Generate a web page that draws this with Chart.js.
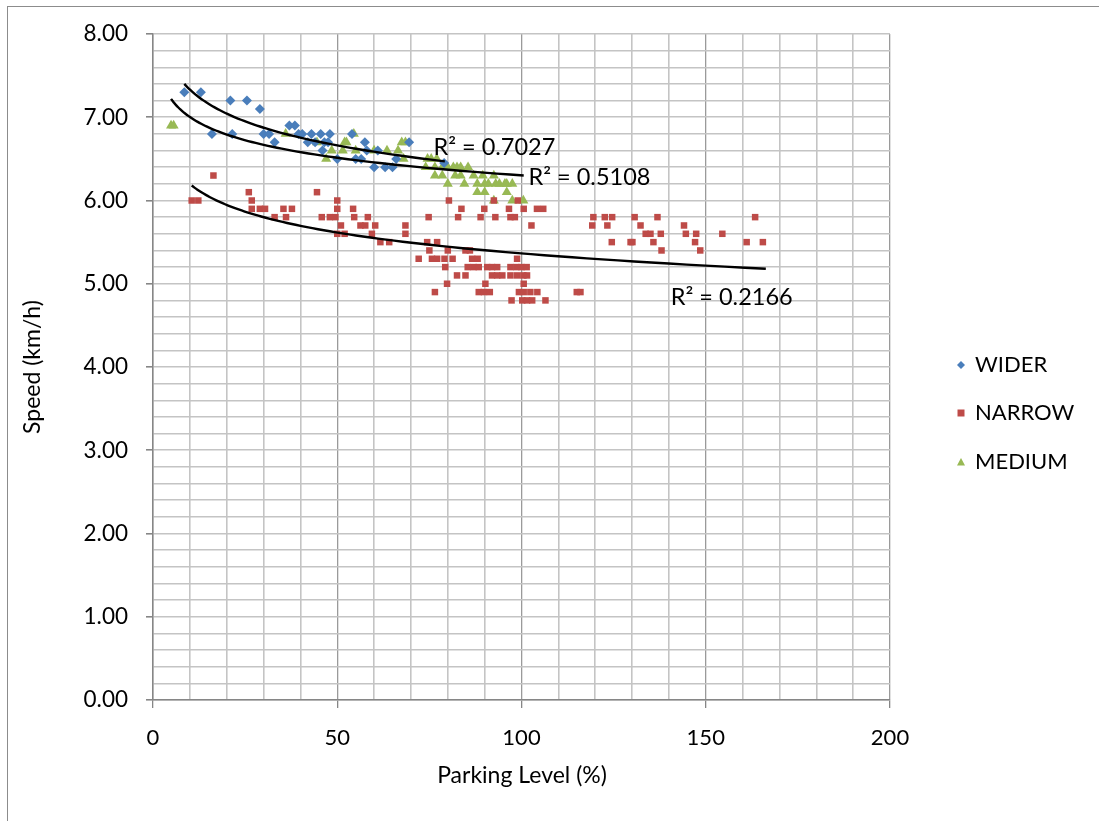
<!DOCTYPE html>
<html><head><meta charset="utf-8">
<script src="https://cdn.jsdelivr.net/npm/chart.js@4/dist/chart.umd.min.js"></script>
<style>
html,body{margin:0;padding:0;background:#fff;overflow:hidden}
#wrap{position:relative;width:1099px;height:821px}
#frame{position:absolute;left:7px;top:6px;width:1200px;height:900px;border-left:1.5px solid #8c8c8c;border-top:1.5px solid #8c8c8c;box-sizing:border-box}
canvas{position:absolute;left:0;top:0}
</style></head><body>
<div id="wrap"><div id="frame"></div><canvas id="c" width="1099" height="821"></canvas></div>
<script>
const seriesNames = ["WIDER", "NARROW", "MEDIUM"];
const xTickLabels = ["0", "50", "100", "150", "200"];
const yTickLabels = ["0.00","1.00","2.00","3.00","4.00","5.00","6.00","7.00","8.00"];
const r2Labels = ["R² = 0.7027", "R² = 0.2166", "R² = 0.5108"];
const xTitle = "Parking Level (%)";
const yTitle = "Speed (km/h)";

const widerPoints = [[8.5,7.3],[13,7.3],[16,6.8],[21,7.2],[21.5,6.8],[25.5,7.2],[29,7.1],[30,6.8],[31.5,6.8],[33,6.7],[37,6.9],[38.5,6.9],[39.5,6.8],[40.5,6.8],[42,6.7],[43,6.8],[44,6.7],[45.5,6.8],[46.5,6.7],[46,6.6],[48,6.8],[47.5,6.7],[50,6.5],[54,6.8],[55,6.5],[56.5,6.5],[57.5,6.7],[58,6.6],[60,6.4],[61,6.6],[63,6.4],[65,6.4],[66,6.5],[69.5,6.7],[79,6.45]];

const narrowPoints = [[10.5,6.0],[12.3,6.0],[16.4,6.3],[26,6.1],[26.8,6.0],[26.8,5.9],[29,5.9],[30.4,5.9],[33,5.8],[35.4,5.9],[37.7,5.9],[36.1,5.8],[44.5,6.1],[45.8,5.8],[48,5.8],[49.5,5.8],[50,6.0],[50,5.9],[51,5.7],[50,5.6],[52,5.6],[54.3,5.9],[54.6,5.8],[56.3,5.7],[57.6,5.7],[58.3,5.8],[60.3,5.7],[59.4,5.6],[61.7,5.5],[64.1,5.5],[68.5,5.7],[68.5,5.6],[74.8,5.8],[74.4,5.5],[77.1,5.5],[75,5.4],[72.1,5.3],[75.7,5.3],[77.1,5.3],[76.5,4.9],[80.3,6.0],[83.7,5.9],[82.8,5.8],[88.9,5.8],[89.9,5.9],[92.9,5.8],[96.6,5.9],[97,5.8],[98.2,5.8],[100.6,5.9],[104.2,5.9],[105.9,5.9],[99,6.0],[92.5,6.0],[102.7,5.7],[80,5.4],[84.8,5.4],[86,5.4],[79.1,5.3],[81.3,5.3],[86.6,5.3],[88.1,5.3],[98.8,5.3],[79.3,5.2],[85.4,5.2],[87,5.2],[88.4,5.2],[90.7,5.2],[92,5.2],[93.4,5.2],[97,5.2],[98.6,5.2],[100,5.2],[101.4,5.2],[82.5,5.1],[84.8,5.1],[92,5.1],[93.4,5.1],[94.8,5.1],[97,5.1],[98.8,5.1],[100.5,5.1],[101.5,5.1],[79.8,5.0],[90.2,5.0],[100.6,5.0],[88.4,4.9],[89.8,4.9],[91.4,4.9],[99.3,4.9],[100.6,4.9],[102.4,4.9],[104.3,4.9],[97.3,4.8],[100.2,4.8],[101.5,4.8],[102.9,4.8],[106.5,4.8],[115,4.9],[116,4.9],[119.5,5.8],[119.2,5.7],[122.6,5.8],[124.6,5.8],[123.3,5.7],[124.5,5.5],[130.7,5.8],[132.3,5.7],[129.6,5.5],[130.1,5.5],[133.7,5.6],[135,5.6],[136.9,5.8],[137.8,5.6],[135.8,5.5],[138,5.4],[144.1,5.7],[144.6,5.6],[147.4,5.6],[147.1,5.5],[148.5,5.4],[154.5,5.6],[161.1,5.5],[163.4,5.8],[165.5,5.5]];

const mediumPoints = [[4.9,6.9],[5.6,6.9],[36,6.8],[44.5,6.7],[47,6.5],[48.5,6.6],[51.5,6.6],[52,6.7],[52.5,6.7],[54.5,6.8],[55,6.6],[60,6.6],[63.5,6.6],[66.5,6.6],[67.5,6.7],[68.5,6.7],[68,6.5],[74,6.4],[74.5,6.5],[75.5,6.5],[77,6.5],[76.5,6.4],[76.5,6.3],[78.5,6.4],[78.5,6.3],[80,6.4],[80,6.2],[81.5,6.4],[82,6.3],[82.5,6.4],[83.5,6.4],[83.5,6.3],[84.5,6.2],[85.5,6.4],[87,6.3],[88,6.2],[88,6.1],[89.5,6.3],[90,6.1],[90,6.2],[91,6.2],[92.5,6.3],[93,6.2],[92.5,6.0],[94,6.2],[95.5,6.2],[96,6.1],[96,6.2],[97.5,6.2],[97.5,6.0],[100.5,6.0]];

// Logarithmic trendlines y = a*ln(x) + b, coefficients and x-ranges
const trendA = [-0.4167, -0.3619, -0.3044];
const trendB = [8.292, 7.031, 7.704];
const trendFrom = [8.5, 10.5, 4.9];
const trendTo = [79.2, 166.3, 100.6];

const seriesColors = ["#4a7ebb", "#be4b48", "#98b954"];
const seriesShapes = ["rectRot", "rect", "triangle"];
const seriesRadius = [5, 4.6, 5.8];
const allPoints = [widerPoints, narrowPoints, mediumPoints];
// R² label anchors (data coords: left edge, vertical centre)
const r2Anchors = [[76.1, 6.64], [140.5, 4.84], [101.9, 6.28]];

function trendData(i) {
  const out = [];
  const N = 80, lo = trendFrom[i], hi = trendTo[i];
  for (let k = 0; k <= N; k++) {
    const x = lo * Math.pow(hi / lo, k / N);
    out.push({ x, y: trendA[i] * Math.log(x) + trendB[i] });
  }
  return out;
}

const FONT = "Lato, 'Liberation Sans', sans-serif";
const datasets = [];
allPoints.forEach((pts, i) => {
  datasets.push({
    label: seriesNames[i], type: 'scatter',
    data: pts.map(([x, y]) => ({ x, y })),
    backgroundColor: seriesColors[i], borderColor: seriesColors[i], borderWidth: 0,
    pointStyle: seriesShapes[i], pointRadius: seriesRadius[i], pointHoverRadius: seriesRadius[i],
    order: 2
  });
});
allPoints.forEach((pts, i) => {
  datasets.push({
    label: 'trend' + i, type: 'line', data: trendData(i),
    borderColor: '#000', borderWidth: 2.4, pointRadius: 0, fill: false, tension: 0,
    order: 1
  });
});

const decor = {
  id: 'decor',
  afterDraw(chart) {
    const ctx = chart.ctx, xs = chart.scales.x, ys = chart.scales.y;
    ctx.save();
    ctx.fillStyle = '#000';
    ctx.font = "23.5px " + FONT;
    ctx.textBaseline = 'middle';
    ctx.textAlign = 'left';
    r2Anchors.forEach(([x, y], i) => {
      ctx.fillText(r2Labels[i], xs.getPixelForValue(x), ys.getPixelForValue(y));
    });
    // axis titles
    ctx.font = "23px " + FONT;
    ctx.textAlign = 'center';
    ctx.fillText(xTitle, 522, 776);
    ctx.save();
    ctx.translate(33, 367);
    ctx.rotate(-Math.PI / 2);
    ctx.fillText(yTitle, 0, 0);
    ctx.restore();
    // legend
    const ly = [365, 413, 462];
    seriesNames.forEach((name, i) => {
      const cx = 961, cy = ly[i];
      ctx.fillStyle = seriesColors[i];
      ctx.beginPath();
      if (i === 0) { ctx.moveTo(cx, cy-4); ctx.lineTo(cx+4, cy); ctx.lineTo(cx, cy+4); ctx.lineTo(cx-4, cy); }
      else if (i === 1) { ctx.rect(cx-3.5, cy-3.5, 7, 7); }
      else { ctx.moveTo(cx, cy-4); ctx.lineTo(cx+4, cy+3.5); ctx.lineTo(cx-4, cy+3.5); }
      ctx.closePath(); ctx.fill();
      ctx.fillStyle = '#000';
      ctx.font = "22px " + FONT;
      ctx.textAlign = 'left';
      ctx.fillText(name, 975, cy);
    });
    ctx.restore();
  }
};

new Chart(document.getElementById('c'), {
  data: { datasets },
  options: {
    responsive: false, animation: false,
    layout: { padding: { left: 8, top: 34, right: 209, bottom: 0 } },
    plugins: { legend: { display: false }, tooltip: { enabled: false } },
    scales: {
      x: {
        type: 'linear', min: 0, max: 200,
        afterFit(s) { s.height = 121; },
        afterBuildTicks(s) { const t = []; for (let v = 0; v <= 200; v += 10) t.push({ value: v }); s.ticks = t; },
        ticks: {
          autoSkip: false, maxRotation: 0, padding: 17, color: '#000', font: { family: FONT, size: 22 },
          callback(v) { return v % 50 === 0 ? xTickLabels[v / 50] : ''; }
        },
        grid: {
          drawTicks: true, tickLength: 8,
          color(c) { const v = c.tick ? c.tick.value : 0; return v % 50 === 0 ? '#9a9a9a' : '#c4c4c4'; },
          lineWidth(c) { const v = c.tick ? c.tick.value : 0; return v % 50 === 0 ? 1.3 : 1.6; },
          tickColor(c) { const v = c.tick ? c.tick.value : 0; return v % 50 === 0 ? '#868686' : 'rgba(0,0,0,0)'; }
        },
        border: { color: '#868686', width: 1.5 }
      },
      y: {
        type: 'linear', min: 0, max: 8,
        afterFit(s) { s.width = 145; },
        afterBuildTicks(s) { const t = []; for (let k = 0; k <= 40; k++) t.push({ value: k / 5 }); s.ticks = t; },
        ticks: {
          autoSkip: false, padding: 18, color: '#000', font: { family: FONT, size: 22.5 },
          callback(v) { const r = Math.round(v * 5); return r % 5 === 0 ? yTickLabels[r / 5] : ''; }
        },
        grid: {
          drawTicks: true, tickLength: 7,
          color(c) { return '#c4c4c4'; },
          lineWidth(c) { return 1.6; },
          tickColor(c) { const v = c.tick ? Math.round(c.tick.value * 5) : 0; return v % 5 === 0 ? '#868686' : 'rgba(0,0,0,0)'; }
        },
        border: { color: '#868686', width: 1.5 }
      }
    }
  },
  plugins: [decor]
});
</script>
</body></html>
